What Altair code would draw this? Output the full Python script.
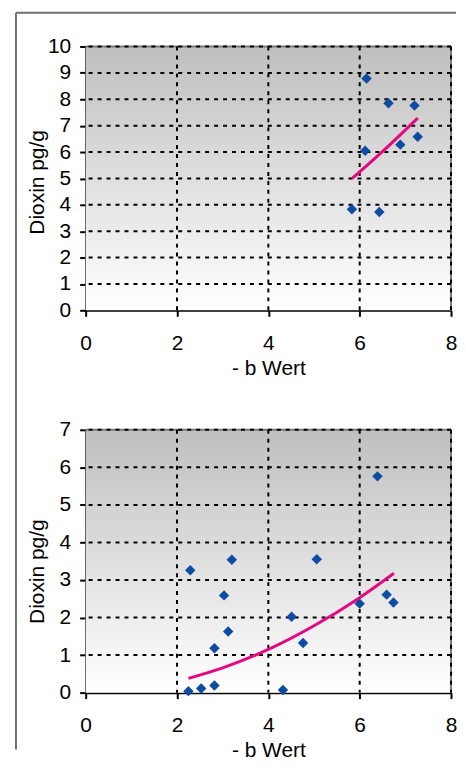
import altair as alt
import pandas as pd

# ---- data ----
top_x = [6.15, 6.63, 7.20, 7.27, 6.89, 6.12, 5.83, 6.43]
top_y = [8.79, 7.85, 7.76, 6.58, 6.28, 6.05, 3.83, 3.73]
top_trend_x = [5.83, 6.55, 7.27]
top_trend_y = [4.99, 6.10, 7.29]

bot_x = [2.25, 2.29, 2.53, 2.82, 2.82, 3.03, 3.12, 3.20, 4.32, 4.51, 4.76, 5.06, 6.00, 6.39, 6.59, 6.74]
bot_y = [0.04, 3.26, 0.11, 1.18, 0.19, 2.59, 1.63, 3.54, 0.07, 2.02, 1.32, 3.55, 2.37, 5.76, 2.61, 2.40]
bot_trend_x = [2.25, 3.0, 4.0, 5.0, 6.0, 6.75]
bot_trend_y = [0.38, 0.66, 1.15, 1.78, 2.53, 3.18]

x_ticks = [0, 2, 4, 6, 8]
top_y_ticks = list(range(0, 11))
bot_y_ticks = list(range(0, 8))

x_title = "- b Wert"
y_title = "Dioxin pg/g"

W = 367
H_TOP = 265
H_BOT = 264
FONT = "Liberation Sans"
POINT_COLOR = "#0c4da2"
TREND_COLOR = "#e5097f"
FRAME_COLOR = "#707070"

one = pd.DataFrame({"a": [0]})


def panel(px, py, tx, ty, ymax, yticks, height, title_y, frame=False):
    xs = alt.Scale(domain=[0, 8], nice=False, zero=False)
    ys = alt.Scale(domain=[0, ymax], nice=False, zero=False)
    xa = alt.Axis(
        values=x_ticks, grid=False, title=x_title,
        domainColor="black", domainWidth=2,
        tickColor="black", tickWidth=2, tickSize=6,
        labelFont=FONT, labelFontSize=21, labelColor="black",
        labelBaseline="alphabetic", labelPadding=33, labelOverlap=False,
        labelFlush=False,
        titleFont=FONT, titleFontSize=21, titleFontWeight="normal",
        titleColor="black", titleBaseline="alphabetic", titleY=64)
    ya = alt.Axis(
        values=yticks, grid=False, title=y_title,
        domainColor="black", domainWidth=2,
        tickColor="black", tickWidth=2, tickSize=6,
        labelFont=FONT, labelFontSize=21, labelColor="black",
        labelPadding=9, labelOverlap=False, labelFlush=False,
        titleFont=FONT, titleFontSize=21, titleFontWeight="normal",
        titleColor="black", titleBaseline="middle",
        titleX=-48, titleY=title_y)

    pts = pd.DataFrame({"x": px, "y": py})
    trend = pd.DataFrame({"x": tx, "y": ty})
    xg = pd.DataFrame({"x": [v for v in x_ticks if v > 0]})
    yg = pd.DataFrame({"y": [v for v in yticks if v > 0]})
    xb = pd.DataFrame({"x": [x_ticks[-1]]})
    yb = pd.DataFrame({"y": [ymax]})

    X = alt.X("x:Q", scale=xs, axis=xa)
    Y = alt.Y("y:Q", scale=ys, axis=ya)

    bg = alt.Chart(one).mark_rect(
        fill={"gradient": "linear",
              "stops": [{"offset": 0, "color": "#bfbfbf"},
                        {"offset": 1, "color": "#ffffff"}],
              "x1": 0, "x2": 0, "y1": 0, "y2": 1},
    ).encode(x=alt.value(0), x2=alt.value(W), y=alt.value(0), y2=alt.value(height))

    points = alt.Chart(pts).mark_point(shape="diamond", filled=True, size=110,
                                       color=POINT_COLOR, opacity=1).encode(x=X, y=Y)

    border_r = alt.Chart(xb).mark_rule(color="#7a7a7a", strokeWidth=2).encode(x=X)
    border_t = alt.Chart(yb).mark_rule(color="#7a7a7a", strokeWidth=2).encode(y=Y)

    gx = alt.Chart(xg).mark_rule(color="black", strokeWidth=2, strokeDash=[4, 5]).encode(x=X)
    gy = alt.Chart(yg).mark_rule(color="black", strokeWidth=2, strokeDash=[4, 5]).encode(y=Y)

    line = alt.Chart(trend).mark_line(color=TREND_COLOR, strokeWidth=3,
                                      interpolate="monotone").encode(x=X, y=Y)

    layers = [bg, border_r, border_t, gx, gy, line, points]
    if frame:
        f_left = alt.Chart(one).mark_rule(color=FRAME_COLOR, strokeWidth=2).encode(
            x=alt.value(-70), y=alt.value(-34), y2=alt.value(706))
        f_top = alt.Chart(one).mark_rule(color=FRAME_COLOR, strokeWidth=2).encode(
            x=alt.value(-70), x2=alt.value(372), y=alt.value(-34))
        layers = [f_left, f_top] + layers
    return alt.layer(*layers).properties(width=W, height=height)


top = panel(top_x, top_y, top_trend_x, top_trend_y, 10, top_y_ticks, H_TOP, 136, frame=True)
bot = panel(bot_x, bot_y, bot_trend_x, bot_trend_y, 7, bot_y_ticks, H_BOT, 142)

chart = alt.vconcat(top, bot, spacing=120, bounds="flush").properties(
    padding={"left": 6, "top": 1, "right": 0, "bottom": 0},
    background="white",
).configure_view(stroke="transparent")

chart.save("out.html", embed_options={"renderer": "svg", "actions": False})
